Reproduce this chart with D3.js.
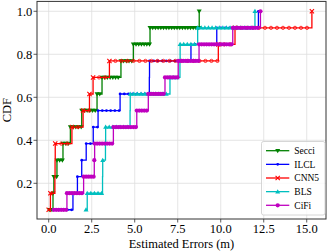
<!DOCTYPE html>
<html>
<head>
<meta charset="utf-8">
<script src="https://cdn.jsdelivr.net/npm/d3@7"></script>
<style>
  html, body { margin: 0; padding: 0; background: #fff; }
  svg { display: block; font-family: "Liberation Serif", "Times New Roman", serif; }
</style>
</head>
<body>
<svg id="chart" width="332" height="252"></svg>
<script>
// sorted estimated errors (m), one CDF step each
const secci = [0.03, 0.25, 0.30, 0.48, 0.83, 1.26, 1.92, 2.81, 3.10, 4.20, 4.92, 5.89, 8.75];
const ilcl  = [0.60, 1.41, 1.67, 1.92, 2.18, 2.59, 2.87, 4.15, 5.85, 5.86, 8.27, 9.77, 12.19];
const cnn5  = [0.00, 0.10, 0.36, 0.37, 0.38, 1.35, 2.00, 2.37, 2.58, 3.53, 9.86, 10.83, 15.30];
const bls   = [2.17, 2.24, 3.13, 3.14, 3.30, 3.31, 4.73, 4.74, 7.05, 7.63, 7.64, 8.66, 11.99];
const cifi  = [0.29, 1.06, 2.03, 2.65, 2.67, 3.76, 5.12, 5.79, 6.76, 7.53, 8.74, 10.70, 12.31];

const seriesNames = ["Secci", "ILCL", "CNN5", "BLS", "CiFi"];
const xTicks = [0, 2.5, 5, 7.5, 10, 12.5, 15];
const yTicks = [0.2, 0.4, 0.6, 0.8, 1.0];

const series = [
  {name: seriesNames[0], values: secci, color: "#008000", marker: "tri-down", gap: 2.7},
  {name: seriesNames[1], values: ilcl,  color: "#0000ff", marker: "dot",      gap: 4.2},
  {name: seriesNames[2], values: cnn5,  color: "#ff0000", marker: "x",        gap: 6},
  {name: seriesNames[3], values: bls,   color: "#00bfbf", marker: "tri-up",   gap: 3.6},
  {name: seriesNames[4], values: cifi,  color: "#bf00bf", marker: "circle",   gap: 2.5}
];

const svg = d3.select("#chart");
const pLeft = 37, pRight = 326, pTop = 1.4, pBottom = 219;

const x = d3.scaleLinear().domain([-0.68, 16.12]).range([pLeft, pRight]);
const y = d3.scaleLinear().domain([0.034, 1.046]).range([pBottom, pTop]);

// grid
const grid = svg.append("g").attr("stroke", "#dedede").attr("stroke-width", 0.8);
grid.selectAll(".gx").data(xTicks).join("line")
  .attr("x1", d => x(d)).attr("x2", d => x(d)).attr("y1", pTop).attr("y2", pBottom);
grid.selectAll(".gy").data(yTicks).join("line")
  .attr("y1", d => y(d)).attr("y2", d => y(d)).attr("x1", pLeft).attr("x2", pRight);

function drawMarker(g, type, cx, cy, color, size, alt) {
  const s = size;
  if (type === "tri-down") {
    g.append("path").attr("d", `M${cx - s},${cy - s * 0.7}L${cx + s},${cy - s * 0.7}L${cx},${cy + s}Z`)
      .attr("fill", color);
  } else if (type === "tri-up") {
    g.append("path").attr("d", `M${cx - s},${cy + s * 0.7}L${cx + s},${cy + s * 0.7}L${cx},${cy - s}Z`)
      .attr("fill", color);
  } else if (type === "dot") {
    g.append("circle").attr("cx", cx).attr("cy", cy).attr("r", s * 0.55).attr("fill", color);
  } else if (type === "circle") {
    g.append("circle").attr("cx", cx).attr("cy", cy).attr("r", s * 0.85).attr("fill", color);
  } else if (type === "x") {
    if (alt) {
      g.append("circle").attr("cx", cx).attr("cy", cy).attr("r", s * 0.65)
        .attr("fill", "none").attr("stroke", color).attr("stroke-width", 0.8);
    } else {
      const h = s * 0.85;
      g.append("path").attr("d", `M${cx - h},${cy - h}L${cx + h},${cy + h}M${cx - h},${cy + h}L${cx + h},${cy - h}`)
        .attr("stroke", color).attr("stroke-width", 1.1);
    }
  }
}

const line = d3.line()
  .x(d => x(d[0]))
  .y(d => y(d[1]))
  .curve(d3.curveStepAfter);

series.forEach(s => {
  const n = s.values.length;
  const pts = s.values.map((v, i) => [v, (i + 1) / n]);
  const g = svg.append("g");
  g.append("path")
    .attr("d", line(pts))
    .attr("fill", "none")
    .attr("stroke", s.color)
    .attr("stroke-width", 1.3);
  const mg = g.append("g");
  pts.forEach((p, i) => {
    const px0 = x(p[0]);
    const py = y(p[1]);
    if (i === n - 1) {
      drawMarker(mg, s.marker, px0, py, s.color, 2.5, false);
      return;
    }
    const px1 = x(pts[i + 1][0]);
    for (let j = 0, px = px0; px < px1 - 0.3; j++, px = px0 + j * s.gap) {
      drawMarker(mg, s.marker, px, py, s.color, 2.5, j > 0);
    }
  });
});

// spines
svg.append("rect")
  .attr("x", pLeft).attr("y", pTop).attr("width", pRight - pLeft).attr("height", pBottom - pTop)
  .attr("fill", "none").attr("stroke", "#333").attr("stroke-width", 1);

// ticks
const axisG = svg.append("g").attr("fill", "#000").style("font-size", "12.5px");
axisG.selectAll(".tx").data(xTicks).join("line")
  .attr("x1", d => x(d)).attr("x2", d => x(d)).attr("y1", pBottom).attr("y2", pBottom + 3.5)
  .attr("stroke", "#333").attr("stroke-width", 0.8);
axisG.selectAll(".lx").data(xTicks).join("text")
  .attr("x", d => x(d)).attr("y", 233).attr("text-anchor", "middle")
  .text(d => d3.format(".1f")(d));
axisG.selectAll(".ty").data(yTicks).join("line")
  .attr("y1", d => y(d)).attr("y2", d => y(d)).attr("x1", pLeft - 3.5).attr("x2", pLeft)
  .attr("stroke", "#333").attr("stroke-width", 0.8);
axisG.selectAll(".ly").data(yTicks).join("text")
  .attr("x", 32.3).attr("y", d => y(d)).attr("dy", "0.34em").attr("text-anchor", "end")
  .text(d => d3.format(".1f")(d));

svg.append("text")
  .attr("x", (pLeft + pRight) / 2).attr("y", 248)
  .attr("text-anchor", "middle").style("font-size", "12.5px")
  .text("Estimated Errors (m)");
svg.append("text")
  .attr("transform", `translate(10.5,${(pTop + pBottom) / 2}) rotate(-90)`)
  .attr("text-anchor", "middle").style("font-size", "12.5px")
  .text("CDF");

// legend
const legend = svg.append("g");
legend.append("rect")
  .attr("x", 261.5).attr("y", 141.5).attr("width", 63.5).attr("height", 73.5).attr("rx", 2)
  .attr("fill", "#fff").attr("fill-opacity", 0.8).attr("stroke", "#ccc").attr("stroke-width", 0.8);
series.forEach((s, i) => {
  const ly = 150.7 + i * 13.65;
  const row = legend.append("g");
  row.append("line").attr("x1", 266).attr("x2", 289.3).attr("y1", ly).attr("y2", ly)
    .attr("stroke", s.color).attr("stroke-width", 1.3);
  drawMarker(row, s.marker, 277.7, ly, s.color, 2.5, false);
  row.append("text").attr("x", 294.3).attr("y", ly).attr("dy", "0.35em")
    .style("font-size", "9.5px").text(s.name);
});
</script>
</body>
</html>
